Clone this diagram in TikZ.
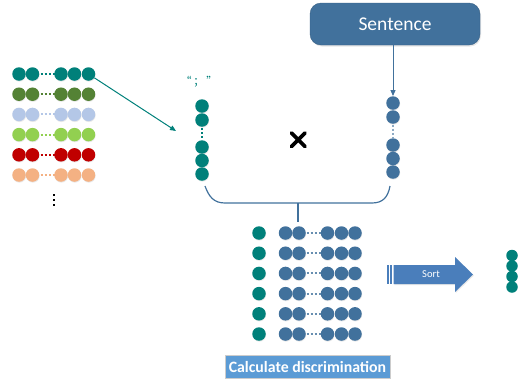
\documentclass[tikz,border=0pt]{standalone}
\usepackage{fontspec}
\setmainfont{Carlito}
\newfontfamily\cjk{Noto Sans CJK SC}
\usetikzlibrary{arrows.meta,shadows}
\definecolor{tealc}{HTML}{00807A}
\definecolor{dgreen}{HTML}{548235}
\definecolor{lblue}{HTML}{B4C7E7}
\definecolor{lgreen}{HTML}{92D050}
\definecolor{redc}{HTML}{C00000}
\definecolor{peach}{HTML}{F4B183}
\definecolor{blued}{HTML}{41719C}
\definecolor{calcb}{HTML}{5B9BD5}
\definecolor{sortb}{HTML}{4A7EBB}
\tikzset{
  dot/.style={circle, fill=#1, minimum size=13.5pt, inner sep=0pt,
    drop shadow={opacity=0.18, shadow xshift=0.4pt, shadow yshift=-0.9pt}},
  sdot/.style={circle, fill=#1, minimum size=11.5pt, inner sep=0pt},
  dotline/.style={#1, line width=2pt, dash pattern=on 2pt off 2.2pt},
  conn/.style={line width=1pt, -{Triangle[length=6pt,width=5pt]}},
}
\begin{document}
\begin{tikzpicture}[x=1pt,y=-1pt]
\useasboundingbox (0,0) rectangle (520,381);
% left matrix
\foreach \c [count=\r] in {tealc,dgreen,lblue,lgreen,redc,peach}{
  \pgfmathsetmacro{\yy}{74+20.2*(\r-1)}
  \draw[dotline=\c] (40.5,\yy) -- (54.5,\yy);
  \foreach \x [count=\k] in {19,32.5,61,74.5,88.5}{
    \node[dot=\c] (L\r\k) at (\x,\yy) {};
  }
}
\foreach \yy in {194.5,199.5,204.5}{
  \fill (53,\yy-1) rectangle (55,\yy+1);
}
% arrow from left matrix
\coordinate (aend) at (176,131);
\draw[conn, tealc] (L15) -- (aend);
% quote label
\node[text=tealc, font=\cjk\fontsize{11}{12}\selectfont, inner sep=0pt] (semi) at (199,82) {“\,；\,”};
% teal column
\draw[dotline=tealc] (202,128) -- (202,140);
\foreach \yy [count=\k] in {106,120,147,160.5,174}{
  \node[dot=tealc] (T\k) at (202,\yy) {};
}
% blue column
\draw[dotline=blued!60] (393,124.5) -- (393,138);
\foreach \yy [count=\k] in {103,117,145,158.5,172}{
  \node[dot=blued] (B\k) at (393,\yy) {};
}
% cross
\draw[line width=3.6pt, line cap=round] (291.5,133) -- (305,146.5) (305,133) -- (291.5,146.5);
% sentence box
\node[draw=blued!85!black, fill=blued, rounded corners=11pt, minimum width=170pt, minimum height=42pt,
  text=white, font=\fontsize{19.5}{22}\selectfont,
  drop shadow={opacity=0.2, shadow xshift=1pt, shadow yshift=-1.5pt}] (sent) at (395,24) {Sentence};
\draw[conn, blued] (sent.south -| B1) -- (B1.north);
% bracket
\coordinate (bl) at (205,186);
\coordinate (br) at (390,186);
\coordinate (bm) at (298,203);
\coordinate (bstem) at (298,222);
\draw[blued, line width=1.2pt] (bl) .. controls (209,197) and (214,203) .. (225,203) -- (372,203)
   .. controls (383,203) and (388,197) .. (br);
\draw[blued, line width=1.2pt] (bm) -- (bstem);
% bottom matrix
\foreach \r in {1,...,6}{
  \pgfmathsetmacro{\yy}{233+20.2*(\r-1)}
  \node[dot=tealc] (M\r0) at (259,\yy) {};
  \draw[dotline=blued!80] (306.5,\yy) -- (320.5,\yy);
  \foreach \x [count=\k] in {285.5,299,327.5,341.5,355}{
    \node[dot=blued] (M\r\k) at (\x,\yy) {};
  }
}
% calculate box
\node[draw=black!20, fill=calcb, minimum width=165pt, minimum height=23pt, inner sep=0pt,
  text=white, font=\bfseries\fontsize{15.8}{18}\selectfont] (calc) at (307.5,366.5) {Calculate discrimination};
% sort arrow
\fill[sortb] (387,265) rectangle (388.5,284);
\fill[sortb] (390,265) rectangle (392,284);
\fill[sortb, drop shadow={opacity=0.18, shadow xshift=0.8pt, shadow yshift=-1pt}]
  (393.5,265) -- (455,265) -- (455,257) -- (473,274.5) -- (455,292) -- (455,284) -- (393.5,284) -- cycle;
\node[text=white, font=\fontsize{10.5}{12}\selectfont, inner sep=0pt] (sort) at (431,274.5) {Sort};
% right column
\foreach \yy [count=\k] in {255.5,266,276.5,287}{
  \node[sdot=tealc] (R\k) at (512,\yy) {};
}
\end{tikzpicture}
\end{document}
